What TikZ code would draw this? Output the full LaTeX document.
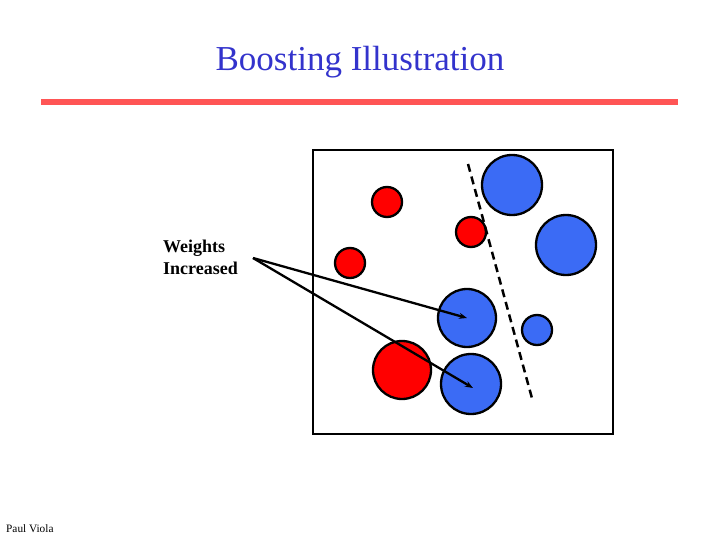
\documentclass[tikz,border=0pt]{standalone}
\usepackage{fontspec}
\setmainfont{Liberation Serif}
\usetikzlibrary{arrows.meta}
\definecolor{titleblue}{RGB}{51,51,204}
\definecolor{rulered}{RGB}{255,85,85}
\definecolor{ptred}{RGB}{255,0,0}
\definecolor{ptblue}{RGB}{59,107,245}
\tikzset{
	pt/.style={circle,draw=black,line width=2.3pt,inner sep=0pt,minimum size=#1},
	redpt/.style={pt=#1,fill=ptred},
	bluept/.style={pt=#1,fill=ptblue},
	pointer/.style={line width=2.3pt,-{Stealth[length=8pt,width=6pt]}}
}
\begin{document}
\begin{tikzpicture}[x=1pt,y=-1pt]
		\useasboundingbox (0,0) rectangle (720,540);
		\node[text=titleblue,font=\fontsize{35}{40}\selectfont] (title) at (360,62) {Boosting Illustration};
		\draw[rulered,line width=6.5pt] (41,102) -- (678,102);
		\draw[line width=2.5pt] (313,150) rectangle (613,434);
		% red points
		\node[redpt=30pt] (r1) at (387,202) {};
		\node[redpt=30pt] (r2) at (471,232) {};
		\node[redpt=30pt] (r3) at (350,263) {};
		\node[redpt=58pt] (r4) at (402,370) {};
		% blue points
		\node[bluept=60pt] (b1) at (512,185) {};
		\node[bluept=60pt] (b2) at (566,245) {};
		\node[bluept=58pt] (b3) at (467,318) {};
		\node[bluept=30pt] (b4) at (537,330) {};
		\node[bluept=60pt] (b5) at (471,384) {};
		% separating line
		\coordinate (sep1) at (468,164);
		\coordinate (sep2) at (533,402);
		\draw[line width=2.5pt,dash pattern=on 8pt off 5pt] (sep1) -- (sep2);
		\node[font=\bfseries\fontsize{18}{22}\selectfont,align=left,anchor=north west,inner sep=0pt] (weights) at (163,240) {Weights\\Increased};
		\coordinate (src) at (253,258);
		\draw[pointer] (src) -- (b3.center);
		\draw[pointer] (src) -- ([shift={(2,4)}]b5.center);
		\node[font=\fontsize{11.3}{13}\selectfont,anchor=base west,inner sep=0pt] (author) at (6,532) {Paul Viola};
	\end{tikzpicture}
\end{document}
